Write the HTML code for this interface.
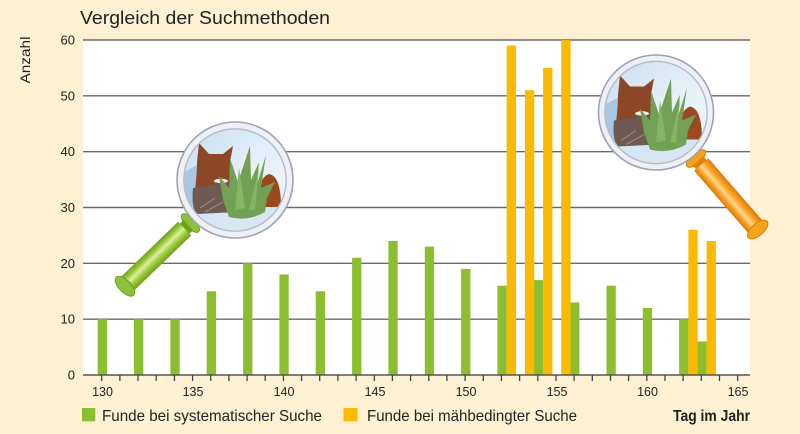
<!DOCTYPE html>
<html><head><meta charset="utf-8"><style>
html,body{margin:0;padding:0;background:#fdf0d3;}
svg{display:block;}
text{font-family:"Liberation Sans",sans-serif;fill:#222;}
</style></head><body>
<svg width="800" height="434" viewBox="0 0 800 434" xmlns="http://www.w3.org/2000/svg">
<defs>
<linearGradient id="sky" x1="0" y1="0" x2="1" y2="1">
<stop offset="0" stop-color="#c6dcf0"/><stop offset="0.5" stop-color="#e4eff9"/><stop offset="1" stop-color="#f4f8fc"/>
</linearGradient>
<linearGradient id="gh" x1="0" y1="0" x2="0" y2="1">
<stop offset="0" stop-color="#6f9e1c"/><stop offset="0.3" stop-color="#9ccb3c"/><stop offset="0.55" stop-color="#d9f0a0"/><stop offset="0.75" stop-color="#9ccb3c"/><stop offset="1" stop-color="#6f9e1c"/>
</linearGradient>
<linearGradient id="oh" x1="0" y1="0" x2="0" y2="1">
<stop offset="0" stop-color="#e07808"/><stop offset="0.3" stop-color="#f7a424"/><stop offset="0.55" stop-color="#fcd68e"/><stop offset="0.75" stop-color="#f7a424"/><stop offset="1" stop-color="#de7606"/>
</linearGradient>
<clipPath id="lens"><circle cx="0" cy="0" r="50.5"/></clipPath>
</defs>
<rect x="0" y="0" width="800" height="434" fill="#fdf0d3"/>
<rect x="83" y="40" width="667" height="335" fill="#ffffff"/>
<g stroke="#6a6a6a" stroke-width="1.4">
<line x1="83" y1="40" x2="750" y2="40"/>
<line x1="83" y1="95.8" x2="750" y2="95.8"/>
<line x1="83" y1="151.7" x2="750" y2="151.7"/>
<line x1="83" y1="207.5" x2="750" y2="207.5"/>
<line x1="83" y1="263.3" x2="750" y2="263.3"/>
<line x1="83" y1="319.2" x2="750" y2="319.2"/>
</g>
<g fill="#8cbf30">
<rect x="97.7" y="319.2" width="9.3" height="55.8"/>
<rect x="134.0" y="319.2" width="9.3" height="55.8"/>
<rect x="170.4" y="319.2" width="9.3" height="55.8"/>
<rect x="206.7" y="291.25" width="9.3" height="83.75"/>
<rect x="243.1" y="263.3" width="9.3" height="111.7"/>
<rect x="279.4" y="274.5" width="9.3" height="100.5"/>
<rect x="315.7" y="291.25" width="9.3" height="83.75"/>
<rect x="352.1" y="257.75" width="9.3" height="117.25"/>
<rect x="388.4" y="241" width="9.3" height="134"/>
<rect x="424.8" y="246.6" width="9.3" height="128.4"/>
<rect x="461.1" y="268.9" width="9.3" height="106.1"/>
<rect x="497.4" y="285.7" width="9.3" height="89.3"/>
<rect x="533.8" y="280.1" width="9.3" height="94.9"/>
<rect x="570.1" y="302.4" width="9.3" height="72.6"/>
<rect x="606.5" y="285.7" width="9.3" height="89.3"/>
<rect x="642.8" y="308" width="9.3" height="67"/>
<rect x="679.1" y="319.2" width="9.3" height="55.8"/>
<rect x="697.3" y="341.5" width="9.3" height="33.5"/>
</g>
<g fill="#fbb900">
<rect x="506.7" y="45.6" width="9.3" height="329.4"/>
<rect x="524.9" y="90.25" width="9.3" height="284.75"/>
<rect x="543.1" y="68" width="9.3" height="307"/>
<rect x="561.3" y="40" width="9.3" height="335"/>
<rect x="688.4" y="229.8" width="9.3" height="145.2"/>
<rect x="706.6" y="241" width="9.3" height="134"/>
</g>
<line x1="83" y1="375" x2="750" y2="375" stroke="#555" stroke-width="1.5"/>
<g stroke="#444" stroke-width="1.3">
<line x1="101.7" y1="375" x2="101.7" y2="381"/><line x1="119.9" y1="375" x2="119.9" y2="381"/><line x1="138.0" y1="375" x2="138.0" y2="381"/><line x1="156.2" y1="375" x2="156.2" y2="381"/><line x1="174.4" y1="375" x2="174.4" y2="381"/><line x1="192.6" y1="375" x2="192.6" y2="381"/><line x1="210.7" y1="375" x2="210.7" y2="381"/><line x1="228.9" y1="375" x2="228.9" y2="381"/><line x1="247.1" y1="375" x2="247.1" y2="381"/><line x1="265.2" y1="375" x2="265.2" y2="381"/><line x1="283.4" y1="375" x2="283.4" y2="381"/><line x1="301.6" y1="375" x2="301.6" y2="381"/><line x1="319.7" y1="375" x2="319.7" y2="381"/><line x1="337.9" y1="375" x2="337.9" y2="381"/><line x1="356.1" y1="375" x2="356.1" y2="381"/><line x1="374.3" y1="375" x2="374.3" y2="381"/><line x1="392.4" y1="375" x2="392.4" y2="381"/><line x1="410.6" y1="375" x2="410.6" y2="381"/><line x1="428.8" y1="375" x2="428.8" y2="381"/><line x1="446.9" y1="375" x2="446.9" y2="381"/><line x1="465.1" y1="375" x2="465.1" y2="381"/><line x1="483.3" y1="375" x2="483.3" y2="381"/><line x1="501.4" y1="375" x2="501.4" y2="381"/><line x1="519.6" y1="375" x2="519.6" y2="381"/><line x1="537.8" y1="375" x2="537.8" y2="381"/><line x1="556.0" y1="375" x2="556.0" y2="381"/><line x1="574.1" y1="375" x2="574.1" y2="381"/><line x1="592.3" y1="375" x2="592.3" y2="381"/><line x1="610.5" y1="375" x2="610.5" y2="381"/><line x1="628.6" y1="375" x2="628.6" y2="381"/><line x1="646.8" y1="375" x2="646.8" y2="381"/><line x1="665.0" y1="375" x2="665.0" y2="381"/><line x1="683.1" y1="375" x2="683.1" y2="381"/><line x1="701.3" y1="375" x2="701.3" y2="381"/><line x1="719.5" y1="375" x2="719.5" y2="381"/><line x1="737.7" y1="375" x2="737.7" y2="381"/>
</g>
<g font-size="12.5" text-anchor="middle" fill="#333">
<text x="102.5" y="396">130</text><text x="193" y="396">135</text><text x="284" y="396">140</text><text x="375" y="396">145</text><text x="466" y="396">150</text><text x="557" y="396">155</text><text x="647.5" y="396">160</text><text x="738" y="396">165</text>
</g>
<g font-size="13" text-anchor="end">
<text x="75" y="44.5">60</text><text x="75" y="100.3">50</text><text x="75" y="156.2">40</text><text x="75" y="212">30</text><text x="75" y="267.8">20</text><text x="75" y="323.7">10</text><text x="75" y="379.5">0</text>
</g>
<text x="80" y="24" font-size="18" textLength="250" lengthAdjust="spacingAndGlyphs" fill="#1c1c1c">Vergleich der Suchmethoden</text>
<text transform="translate(30,60) rotate(-90)" text-anchor="middle" font-size="14" textLength="47" lengthAdjust="spacingAndGlyphs">Anzahl</text>
<rect x="82" y="408" width="13.3" height="13.3" fill="#8cbf30"/>
<text x="102" y="421" font-size="16" textLength="220" lengthAdjust="spacingAndGlyphs">Funde bei systematischer Suche</text>
<rect x="343.5" y="408" width="14" height="13.3" fill="#fbb900"/>
<text x="367" y="421" font-size="16" textLength="210" lengthAdjust="spacingAndGlyphs">Funde bei mähbedingter Suche</text>
<text x="673" y="421" font-size="15.5" font-weight="bold" textLength="77" lengthAdjust="spacingAndGlyphs" fill="#1c1c1c">Tag im Jahr</text>

<!-- Magnifier 1 (green) -->
<g transform="translate(235,180)">
<g transform="rotate(136)">
<ellipse cx="62" cy="0" rx="5" ry="12" fill="#8cc13a" stroke="#6f9e20" stroke-width="1"/>
<rect x="65" y="-7" width="7" height="14" fill="#6f9e22"/>
<rect x="70" y="-9.5" width="82" height="19" fill="url(#gh)"/>
<ellipse cx="153" cy="0" rx="6" ry="12.5" fill="#8cc13a" stroke="#6f9e20" stroke-width="1"/>
</g>
<circle cx="0" cy="0" r="58" fill="#eef0f4" stroke="#9ea3b4" stroke-width="1.6"/>
<circle cx="0" cy="0" r="52" fill="#c3c8d6"/>
<g clip-path="url(#lens)">
<rect x="-55" y="-55" width="110" height="110" fill="url(#sky)"/>
<path d="M-55,-6 L-28,-20 L-18,45 L-55,45 Z" fill="#a9c7e3"/>
<path d="M-55,30 L55,22 L55,55 L-55,55 Z" fill="#d6e6f4"/>
<path d="M-36,-37 L-26,-26 L-12,-26 L-2,-34 L-5,-18 Q-3,-8 -4,0 L-2,4 L-20,6 L-40,10 Q-38,-5 -38,-18 Z" fill="#8b4726"/>
<path d="M-42,8 L-4,2 Q2,15 2,32 L-38,34 Q-44,28 -42,8 Z" fill="#6e5953"/>
<path d="M-35,28 L-20,18 M-30,32 L-12,22" stroke="#a3918a" stroke-width="0.9" fill="none"/>
<ellipse cx="-14" cy="1" rx="7" ry="2.2" fill="#f4eee8"/>
<path d="M22,27 Q22,-2 34,-6 Q46,-4 46,27 Z" fill="#9a4a1e"/>
<circle cx="27" cy="-2" r="1.3" fill="#e8d040"/>
<path d="M-6,37 L-12,20 L-16,-4 L-6,8 L-5,-22 L3,2 L15,-34 L16,0 L24,-18 L22,4 L31,-25 L26,8 L40,2 L32,18 L30,32 Q12,42 -6,37 Z" fill="#72a055"/>
<path d="M0,30 L4,-12 L10,28 Z M14,30 L24,-12 L20,30 Z" fill="#86b565"/>
</g>
<circle cx="0" cy="0" r="51" fill="none" stroke="#b5bac8" stroke-width="1"/>
</g>

<!-- Magnifier 2 (orange) -->
<g transform="translate(656,112.5)">
<g transform="rotate(49)">
<ellipse cx="61" cy="0" rx="5" ry="12" fill="#f5a21c" stroke="#dc7a08" stroke-width="1"/>
<rect x="64" y="-7" width="7" height="14" fill="#e2820e"/>
<rect x="69" y="-9.5" width="85" height="19" fill="url(#oh)"/>
<ellipse cx="155" cy="0" rx="6" ry="12.5" fill="#f5a21c" stroke="#dc7a08" stroke-width="1"/>
</g>
<circle cx="0" cy="0" r="57.5" fill="#eef0f4" stroke="#9ea3b4" stroke-width="1.6"/>
<circle cx="0" cy="0" r="52" fill="#c3c8d6"/>
<g clip-path="url(#lens)">
<rect x="-55" y="-55" width="110" height="110" fill="url(#sky)"/>
<path d="M-55,-6 L-28,-20 L-18,45 L-55,45 Z" fill="#a9c7e3"/>
<path d="M-55,30 L55,22 L55,55 L-55,55 Z" fill="#d6e6f4"/>
<path d="M-36,-37 L-26,-26 L-12,-26 L-2,-34 L-5,-18 Q-3,-8 -4,0 L-2,4 L-20,6 L-40,10 Q-38,-5 -38,-18 Z" fill="#8b4726"/>
<path d="M-42,8 L-4,2 Q2,15 2,32 L-38,34 Q-44,28 -42,8 Z" fill="#6e5953"/>
<path d="M-35,28 L-20,18 M-30,32 L-12,22" stroke="#a3918a" stroke-width="0.9" fill="none"/>
<ellipse cx="-14" cy="1" rx="7" ry="2.2" fill="#f4eee8"/>
<path d="M22,27 Q22,-2 34,-6 Q46,-4 46,27 Z" fill="#9a4a1e"/>
<circle cx="27" cy="-2" r="1.3" fill="#e8d040"/>
<path d="M-6,37 L-12,20 L-16,-4 L-6,8 L-5,-22 L3,2 L15,-34 L16,0 L24,-18 L22,4 L31,-25 L26,8 L40,2 L32,18 L30,32 Q12,42 -6,37 Z" fill="#72a055"/>
<path d="M0,30 L4,-12 L10,28 Z M14,30 L24,-12 L20,30 Z" fill="#86b565"/>
</g>
<circle cx="0" cy="0" r="51" fill="none" stroke="#b5bac8" stroke-width="1"/>
</g>
</svg>
</body></html>
